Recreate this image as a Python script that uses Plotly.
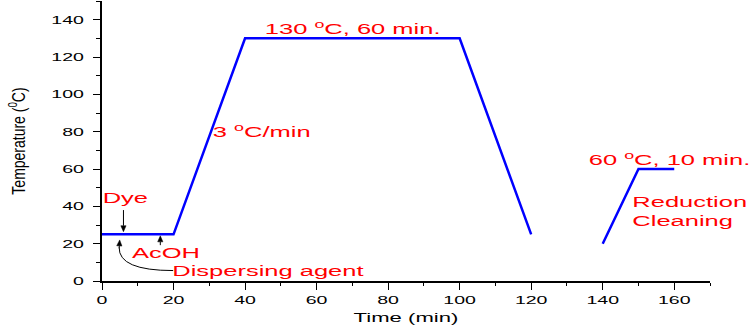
import plotly.graph_objects as go

# Dyeing profile (main cycle)
time_main = [0, 20, 40, 100, 120]
temp_main = [25, 25, 130, 130, 25]
# Reduction cleaning cycle
time_rc = [140, 150, 160]
temp_rc = [20, 60, 60]

x_ticks = [0, 20, 40, 60, 80, 100, 120, 140, 160]
y_ticks = [0, 20, 40, 60, 80, 100, 120, 140]

# Text labels: (text, x, y)
labels = [
    ("130 <sup>o</sup>C, 60 min.", 70.1, 135.6),
    ("3 <sup>o</sup>C/min", 44.8, 80.7),
    ("Dye", 6.6, 45.0),
    ("AcOH", 17.8, 15.5),
    ("Dispersing agent", 46.5, 5.6),
    ("60 <sup>o</sup>C, 10 min.", 158.7, 65.7),
    ("Reduction<br>Cleaning", 164.5, 37.5),
]

W, H = 750, 326
ML, MR, MT, MB = 102, 40, 1, 45
X_RANGE = [0, 170]
Y_RANGE = [0, 150]
XU = (W - ML - MR) / (X_RANGE[1] - X_RANGE[0])   # px per x unit
YU = (H - MT - MB) / (Y_RANGE[1] - Y_RANGE[0])   # px per y unit

BLUE = "#0000ff"
RED = "#ff0000"
FONT = "Liberation Sans"
LBL_FONT = dict(family=FONT, size=15, color=RED)

fig = go.Figure()
fig.add_trace(go.Scatter(x=time_main, y=temp_main, mode="lines",
                         line=dict(color=BLUE, width=2.5), showlegend=False,
                         hoverinfo="skip"))
fig.add_trace(go.Scatter(x=time_rc, y=temp_rc, mode="lines",
                         line=dict(color=BLUE, width=2.5), showlegend=False,
                         hoverinfo="skip"))

axis_common = dict(
    showline=True, linecolor="black", linewidth=1.5,
    ticks="outside", ticklen=7, tickwidth=1.2, tickcolor="black",
    showgrid=False, zeroline=False, mirror=False,
    tickfont=dict(family=FONT, size=11.5, color="black"),
)

fig.update_layout(
    width=W, height=H,
    margin=dict(l=ML, r=MR, t=MT, b=MB),
    paper_bgcolor="white", plot_bgcolor="white",
    showlegend=False,
    xaxis=dict(range=X_RANGE, tickvals=x_ticks, automargin=False,
               minor=dict(ticks="outside", ticklen=3.5, tickwidth=1.2,
                          tickcolor="black", dtick=10, tick0=0),
               title=dict(text="Time (min)", standoff=8,
                          font=dict(family=FONT, size=13, color="black")),
               **axis_common),
    yaxis=dict(range=Y_RANGE, tickvals=y_ticks, automargin=False,
               ticklabelstandoff=7,
               minor=dict(ticks="outside", ticklen=4, tickwidth=1.2,
                          tickcolor="black", dtick=10, tick0=0),
               title=dict(text="Temperature (<sup>0</sup>C)", standoff=38,
                          font=dict(family=FONT, size=14, color="black")),
               **axis_common),
)

for txt, lx, ly in labels:
    fig.add_annotation(x=lx, y=ly, xanchor="center", yanchor="middle",
                       align="left", text=txt, showarrow=False, font=LBL_FONT)


def arrow(x0, y0, x1, y1, head=6.0, half=2.6):
    """Straight black pointer from (x0,y0) to tip (x1,y1) with a filled head."""
    dxp, dyp = (x1 - x0) * XU, (y1 - y0) * YU
    L = (dxp ** 2 + dyp ** 2) ** 0.5
    ux, uy = dxp / L, dyp / L
    bx, by = x1 - ux * head / XU, y1 - uy * head / YU
    fig.add_shape(type="line", xref="x", yref="y", x0=x0, y0=y0, x1=bx, y1=by,
                  line=dict(color="black", width=1))
    p1 = (bx - uy * half / XU, by + ux * half / YU)
    p2 = (bx + uy * half / XU, by - ux * half / YU)
    fig.add_shape(type="path", xref="x", yref="y",
                  path=f"M {x1},{y1} L {p1[0]},{p1[1]} L {p2[0]},{p2[1]} Z",
                  fillcolor="black", line=dict(color="black", width=0.5))


arrow(6.0, 38.0, 6.0, 26.4)       # Dye
arrow(16.3, 19.2, 16.3, 24.2)     # AcOH
# Curved connector for "Dispersing agent"
fig.add_shape(type="path", xref="x", yref="y",
              path="M 19.9,5.6 Q 4.6,5.6 4.8,18.0",
              line=dict(color="black", width=1))
arrow(4.8, 17.5, 4.95, 22.0, head=6.0)

post = """
document.body.style.margin = '0px';
var gd = document.getElementById('{plot_id}');
var S = 1.7;
gd.querySelectorAll('svg text').forEach(function(el){
  if (!el.textContent || !el.textContent.trim()) return;
  var t = el.getAttribute('transform') || '';
  var b = el.getBBox();
  if (el.classList.contains('ytitle')) {
    var cy = b.y + b.height / 2;
    el.setAttribute('transform', t + ' translate(0,' + cy + ') scale(1,1.3) translate(0,' + (-cy) + ')');
    return;
  }
  var anchor = el.getAttribute('text-anchor');
  var cx = (anchor === 'end') ? (b.x + b.width) : (b.x + b.width / 2);
  el.setAttribute('transform', t + ' translate(' + cx + ',0) scale(' + S + ',1) translate(' + (-cx) + ',0)');
});
"""

fig.write_html("out.html", post_script=post, config={"displayModeBar": False})
